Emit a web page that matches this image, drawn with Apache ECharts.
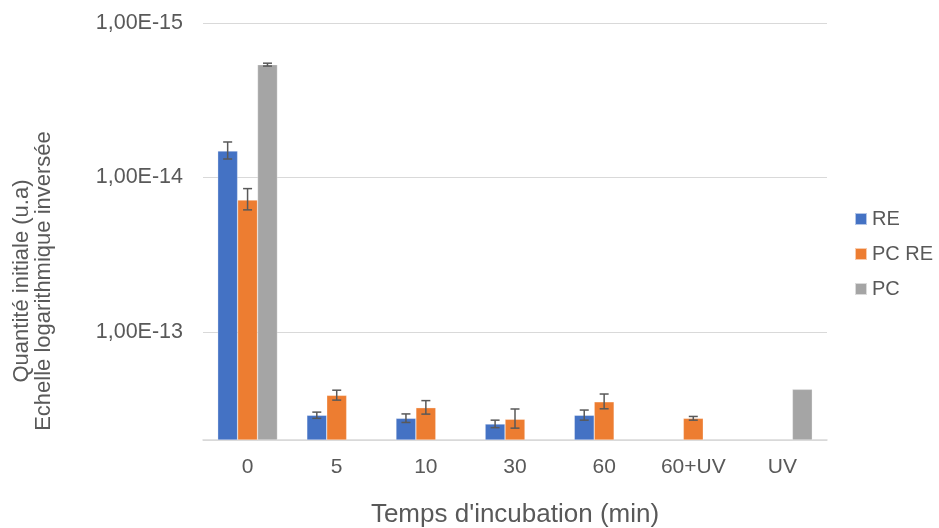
<!DOCTYPE html>
<html><head><meta charset="utf-8">
<script src="https://cdn.jsdelivr.net/npm/echarts@6/dist/echarts.min.js"></script>
<style>html,body{margin:0;padding:0;background:#fff}#c{width:939px;height:528px}</style>
</head><body><div id="c"></div>
<script>
const categories = ['0', '5', '10', '30', '60', '60+UV', 'UV'];
const seriesNames = ['RE', 'PC RE', 'PC'];
const reValues   = [6.74e-15, 3.46e-13, 3.62e-13, 3.94e-13, 3.46e-13, null, null];
const reErrors   = [0.85e-15, 0.16e-13, 0.23e-13, 0.22e-13, 0.26e-13, null, null];
const pcReValues = [1.40e-14, 2.57e-13, 3.09e-13, 3.67e-13, 2.83e-13, 3.62e-13, null];
const pcReErrors = [0.22e-14, 0.19e-13, 0.31e-13, 0.52e-13, 0.31e-13, 0.10e-13, null];
const pcValues   = [1.86e-15, null, null, null, null, null, 2.35e-13];
const pcErrors   = [0.04e-15, null, null, null, null, null, null];
const yTickValues = [1e-15, 1e-14, 1e-13];
const yMin = 1e-15, yMax = 5e-13;

const colors = ['#4472C4', '#ED7D31', '#A5A5A5'];
const TEXT = '#595959';
const FONT = '"Liberation Sans", Arial, sans-serif';
const GAP = 0.33;

function fmtTick(v) {
  for (const t of yTickValues) {
    if (Math.abs(Math.log10(v) - Math.log10(t)) < 0.01) {
      const e = Math.round(Math.log10(t));
      return '1,00E' + (e < 0 ? '-' : '+') + String(Math.abs(e)).padStart(2, '0');
    }
  }
  return '';
}

function makeBar(values, idx) {
  return {
    type: 'bar', name: seriesNames[idx], data: values,
    barGap: '0%', barCategoryGap: (GAP * 100) + '%',
    itemStyle: { color: colors[idx], borderColor: 'rgba(255,255,255,0.6)', borderWidth: 0.5 },
    clip: true
  };
}

function makeErr(values, errors, idx) {
  const data = [];
  values.forEach((v, i) => {
    if (v != null && errors[i] != null) data.push([i, v - errors[i], v + errors[i]]);
  });
  return {
    type: 'custom', name: seriesNames[idx] + ' err', coordinateSystem: 'cartesian2d', z: 10,
    encode: { x: 0, y: [1, 2] },
    data: data,
    renderItem: function (params, api) {
      const cat = api.value(0);
      const lo = api.coord([cat, api.value(1)]);
      const hi = api.coord([cat, api.value(2)]);
      const band = api.size([1, yMin])[0];
      const total = band * (1 - GAP);
      const bw = total / 3;
      const x = lo[0] - total / 2 + bw * (idx + 0.5);
      const cap = 4.5;
      const style = { stroke: '#595959', lineWidth: 1.5 };
      return {
        type: 'group', children: [
          { type: 'line', shape: { x1: x, y1: lo[1], x2: x, y2: hi[1] }, style: style },
          { type: 'line', shape: { x1: x - cap, y1: lo[1], x2: x + cap, y2: lo[1] }, style: style },
          { type: 'line', shape: { x1: x - cap, y1: hi[1], x2: x + cap, y2: hi[1] }, style: style }
        ]
      };
    }
  };
}

const chart = echarts.init(document.getElementById('c'), null, { renderer: 'canvas' });
chart.setOption({
  animation: false,
  textStyle: { fontFamily: FONT },
  grid: { left: 203, right: 112, top: 23, bottom: 88, containLabel: false, outerBoundsMode: 'none' },
  legend: {
    data: seriesNames, orient: 'vertical', left: 849, top: 204,
    itemWidth: 12, itemHeight: 12, itemGap: 15, icon: 'rect',
    textStyle: { fontSize: 20, color: TEXT, fontFamily: FONT }
  },
  xAxis: {
    type: 'category', data: categories,
    axisLine: { onZero: false, lineStyle: { color: '#D9D9D9', width: 1.5 } },
    axisTick: { show: false },
    axisLabel: { fontSize: 21, color: TEXT, margin: 17, fontFamily: FONT },
    name: "Temps d'incubation (min)", nameLocation: 'middle', nameGap: 62,
    nameTextStyle: { fontSize: 26, color: TEXT, fontFamily: FONT }
  },
  yAxis: {
    type: 'log', logBase: 10, inverse: true, min: yMin, max: yMax, startValue: yMax,
    axisLine: { show: false }, axisTick: { show: false },
    splitLine: { show: true, lineStyle: { color: '#D9D9D9', width: 1 } },
    axisLabel: { formatter: fmtTick, fontSize: 21.5, color: TEXT, margin: 20, fontFamily: FONT, showMaxLabel: false }
  },
  graphic: [{
    type: 'text', x: 33, y: 281, rotation: Math.PI / 2,
    style: {
      text: 'Quantité initiale (u.a)\nEchelle logarithmique inversée',
      fontSize: 22, lineHeight: 22, fill: TEXT, fontFamily: FONT,
      align: 'center', verticalAlign: 'middle'
    }
  }],
  series: [
    makeBar(reValues, 0), makeBar(pcReValues, 1), makeBar(pcValues, 2),
    makeErr(reValues, reErrors, 0), makeErr(pcReValues, pcReErrors, 1), makeErr(pcValues, pcErrors, 2)
  ]
});
</script></body></html>
